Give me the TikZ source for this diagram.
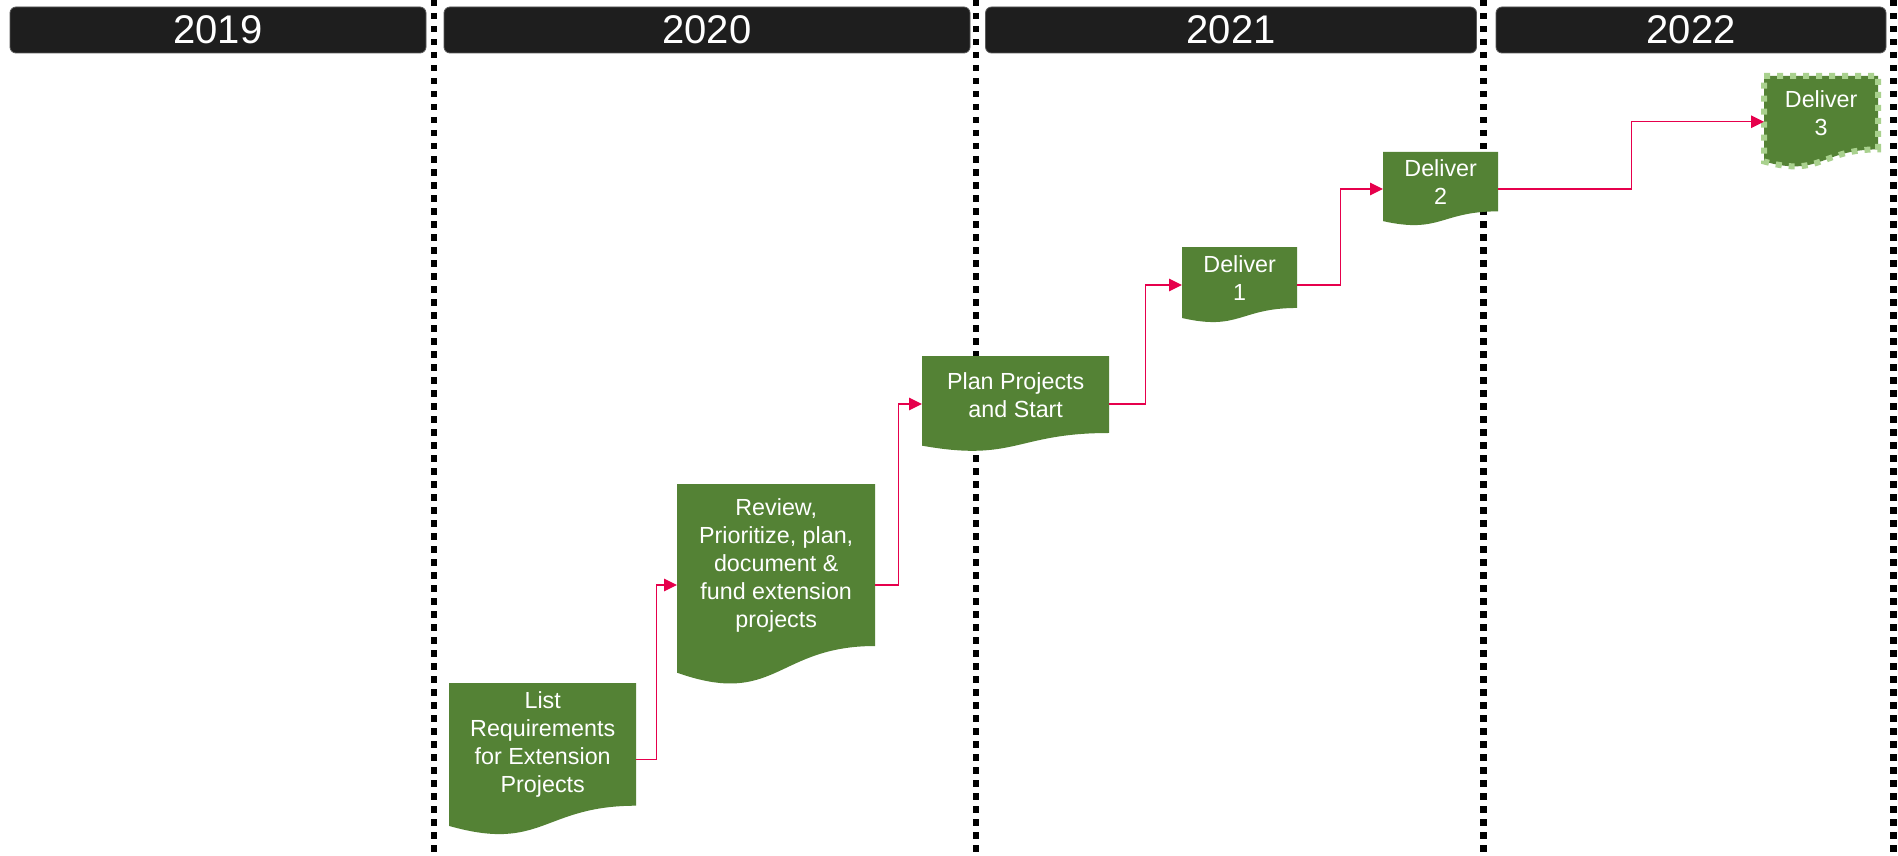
\documentclass[tikz,border=0pt]{standalone}
\usepackage{fontspec}
\setmainfont{Liberation Sans}
\usetikzlibrary{calc,arrows.meta}
\definecolor{docgreen}{RGB}{84,130,53}
\definecolor{lightgreen}{RGB}{169,209,142}
\definecolor{connred}{RGB}{230,0,76}
\definecolor{barblack}{RGB}{30,30,30}
\tikzset{
  yearbar/.style={rounded corners=6pt, fill=barblack, draw=black!65, line width=0.8pt,
    text=white, font=\fontsize{40}{48}\selectfont, inner sep=0pt, minimum height=46pt},
  sepline/.style={line width=6.5pt, dash pattern=on 6.5pt off 6.5pt, black},
  docnode/.style={draw=none, inner sep=0pt, text=white, align=center,
    font=\fontsize{23.3}{28}\selectfont, anchor=north west},
  docfill/.style={fill=docgreen},
  conn/.style={draw=connred, line width=1.3pt, -{Triangle[length=13pt,width=12.5pt]}},
  dashedborder/.style={draw=lightgreen, line width=6pt, dash pattern=on 6pt off 7pt},
}
% #1 extra style, #2 name, #3 x, #4 y (down), #5 w, #6 h, #7 text
\newcommand\docbox[7][]{%
  \path[docfill,#1] (#3,-#4) -- (#3+#5,-#4) -- (#3+#5,-#4-0.802*#6)
    .. controls (#3+0.5*#5,-#4-0.802*#6) and (#3+0.5*#5,-#4-1.108*#6) .. (#3,-#4-0.934*#6) -- cycle;
  \node[docnode, minimum width=#5pt, minimum height=0.802*#6pt] (#2) at (#3,-#4) {#7};
  \coordinate (#2-in) at ($(#2.north west)+(0,-0.5*#6)$);
  \coordinate (#2-out) at ($(#2.north east)+(0,-0.5*#6)$);
}
\begin{document}
\begin{tikzpicture}[x=1pt,y=1pt]
\useasboundingbox (0,0) rectangle (1898,-856);
\fill[white] (0,0) rectangle (1898,-856);

% separators
\foreach \sx in {434,976,1483.5,1893.5}
  \draw[sepline] (\sx,0) -- (\sx,-856);

% year bars
\node[yearbar, minimum width=416pt] (y2019) at (218,-30) {2019};
\node[yearbar, minimum width=526pt] (y2020) at (707,-30) {2020};
\node[yearbar, minimum width=491pt] (y2021) at (1231,-30) {2021};
\node[yearbar, minimum width=390pt] (y2022) at (1691,-30) {2022};

% documents
\docbox{b1}{449}{683}{187}{153}{List\\Requirements\\for Extension\\Projects}
\docbox{b2}{677}{484}{198}{202}{Review,\\Prioritize, plan,\\document \&\\fund extension\\projects}
\docbox{b3}{922}{356}{187}{96}{Plan Projects\\and Start}
\docbox{b4}{1182}{247}{115}{76}{Deliver\\1}
\docbox{b5}{1383}{152}{115}{74}{Deliver\\2}
\docbox[dashedborder]{b6}{1764}{76}{114}{91.5}{Deliver\\3}

% connectors
\draw[conn] (b1-out) -| ($(b1-out)!.5!(b2-in)$) |- (b2-in);
\draw[conn] (b2-out) -| ($(b2-out)!.5!(b3-in)$) |- (b3-in);
\draw[conn] (b3-out) -| ($(b3-out)!.5!(b4-in)$) |- (b4-in);
\draw[conn] (b4-out) -| ($(b4-out)!.5!(b5-in)$) |- (b5-in);
\draw[conn] (b5-out) -| ($(b5-out)!.5!(b6-in)$) |- (b6-in);
\end{tikzpicture}
\end{document}
